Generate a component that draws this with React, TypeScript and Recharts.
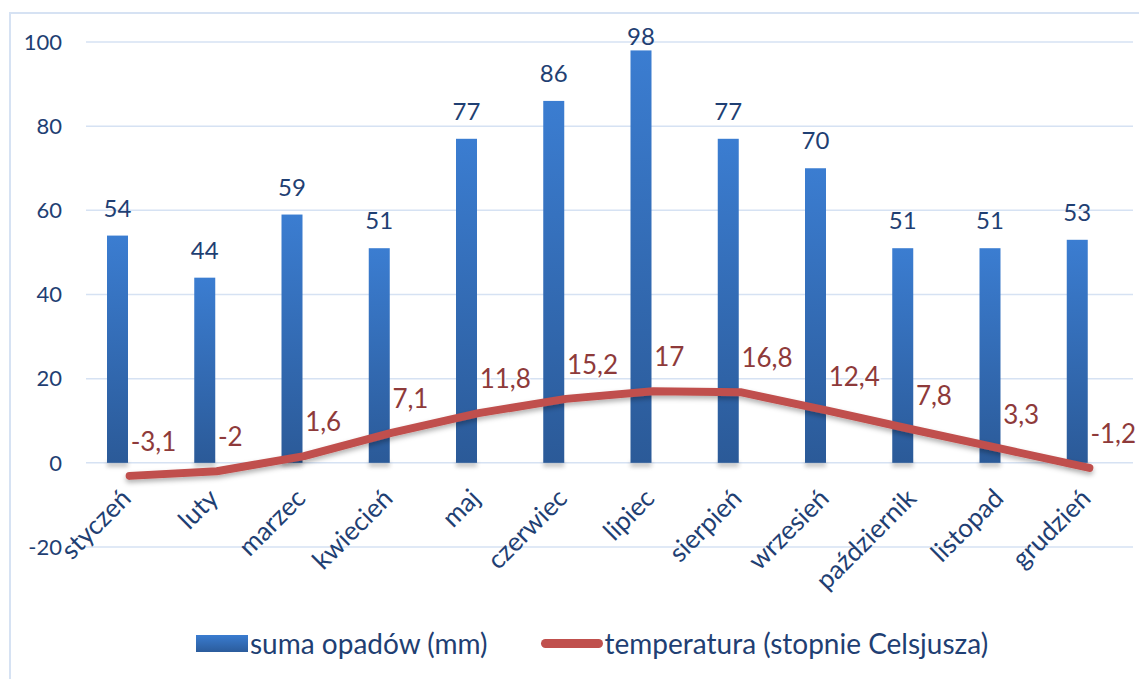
import { Bar, ComposedChart, CartesianGrid, LabelList, Legend, Line, XAxis, YAxis } from 'recharts';

const months = [
  'styczeń', 'luty', 'marzec', 'kwiecień', 'maj', 'czerwiec',
  'lipiec', 'sierpień', 'wrzesień', 'październik', 'listopad', 'grudzień',
];
const precipitation = [54, 44, 59, 51, 77, 86, 98, 77, 70, 51, 51, 53];
const temperature = [-3.1, -2, 1.6, 7.1, 11.8, 15.2, 17, 16.8, 12.4, 7.8, 3.3, -1.2];
const yTicks = [-20, 0, 20, 40, 60, 80, 100];

const data = months.map((m, i) => ({ month: m, opady: precipitation[i], temp: temperature[i] }));

const FONT = 'Lato, "Noto Sans", sans-serif';
const AXIS_COLOR = '#1F3F73';
const GRID_COLOR = '#D6E2F3';
const RED = '#C0504D';
const BAR_SHIFT = 12; // Excel leaves the bar left of the category centre

const fmt = (v: number) => String(v).replace('.', ',');

const BarShape = (props: any) => {
  const { x, y, width, height } = props;
  const bx = x - BAR_SHIFT;
  return (
    <g>
      <rect x={bx} y={y + height - 1} width={width} height={5} fill="#555" opacity={0.35} filter="url(#blur2)" />
      <rect x={bx} y={y} width={width} height={height} fill="url(#barGrad)" />
    </g>
  );
};

const BarLabel = (props: any) => {
  const { x, y, width, value } = props;
  return (
    <text
      x={x + width / 2 - BAR_SHIFT}
      y={Math.max(y - 19, 37)}
      textAnchor="middle"
      fill={AXIS_COLOR}
      fontSize={24}
      fontFamily={FONT}
    >
      {value}
    </text>
  );
};

const TempLabel = (props: any) => {
  const { x, y, value } = props;
  return (
    <text
      x={x + 1}
      y={y - 35}
      dominantBaseline="central"
      fill="#8E3A3A"
      stroke="#fff"
      strokeWidth={3}
      strokeOpacity={0.7}
      paintOrder="stroke"
      fontSize={26}
      fontFamily={FONT}
    >
      {fmt(value)}
    </text>
  );
};

const MonthTick = (props: any) => {
  const { x, y, payload } = props;
  const ax = x + 3;
  const ay = y - 47;
  return (
    <text
      x={ax}
      y={ay}
      transform={`rotate(-45 ${ax} ${ay})`}
      textAnchor="end"
      fill={AXIS_COLOR}
      fontSize={26}
      fontFamily={FONT}
    >
      {payload.value}
    </text>
  );
};

const LegendContent = () => (
  <div style={{ display: 'flex', alignItems: 'center', height: 40, fontFamily: FONT, fontSize: 28, color: AXIS_COLOR }}>
    <span style={{ width: 52, height: 17, background: 'linear-gradient(#3A7CD0, #2B5C9C)', marginRight: 2 }} />
    <span>suma opadów (mm)</span>
    <span style={{ width: 62, height: 9, borderRadius: 5, background: RED, marginLeft: 53, marginRight: 2 }} />
    <span>temperatura (stopnie Celsjusza)</span>
  </div>
);

export default function App() {
  return (
    <div style={{ position: 'relative', width: 1139, height: 671, overflow: 'hidden', background: '#fff' }}>
      <div
        style={{
          position: 'absolute', left: 1, top: 4, width: 1300, height: 900,
          border: `2px solid ${GRID_COLOR}`, boxSizing: 'border-box',
        }}
      />
      <div style={{ position: 'absolute', left: 0, top: 0 }}>
        <ComposedChart width={1139} height={671} data={data} margin={{ top: 34, right: 14, left: 18, bottom: 16 }}>
          <defs>
            <linearGradient id="barGrad" x1="0" y1="0" x2="0" y2="1">
              <stop offset="0%" stopColor="#3B7DD1" />
              <stop offset="100%" stopColor="#2B5A98" />
            </linearGradient>
            <filter id="blur2" x="-50%" y="-200%" width="200%" height="500%">
              <feGaussianBlur stdDeviation="2" />
            </filter>
            <filter id="lineShadow" x="-5%" y="-50%" width="110%" height="200%">
              <feDropShadow dx="0" dy="3" stdDeviation="2.5" floodColor="#000" floodOpacity="0.3" />
            </filter>
          </defs>
          <CartesianGrid vertical={false} stroke={GRID_COLOR} strokeWidth={1.5} />
          <XAxis
            dataKey="month"
            axisLine={false}
            tickLine={false}
            tickSize={0}
            tickMargin={0}
            height={76}
            interval={0}
            tick={<MonthTick />}
          />
          <YAxis
            domain={[-20, 100]}
            ticks={yTicks}
            axisLine={false}
            tickLine={false}
            tickSize={0}
            tickMargin={24}
            width={60}
            tick={{ fill: AXIS_COLOR, fontSize: 22, fontFamily: FONT }}
          />
          <Legend
            verticalAlign="bottom"
            height={40}
            content={<LegendContent />}
            wrapperStyle={{ left: 188, width: 950 }}
          />
          <Bar dataKey="opady" name="suma opadów (mm)" barSize={21} shape={<BarShape />} isAnimationActive={false}>
            <LabelList dataKey="opady" content={<BarLabel />} />
          </Bar>
          <Line
            dataKey="temp"
            name="temperatura (stopnie Celsjusza)"
            type="linear"
            stroke={RED}
            strokeWidth={8}
            strokeLinecap="round"
            strokeLinejoin="round"
            dot={false}
            filter="url(#lineShadow)"
            isAnimationActive={false}
          >
            <LabelList dataKey="temp" content={<TempLabel />} />
          </Line>
        </ComposedChart>
      </div>
    </div>
  );
}
